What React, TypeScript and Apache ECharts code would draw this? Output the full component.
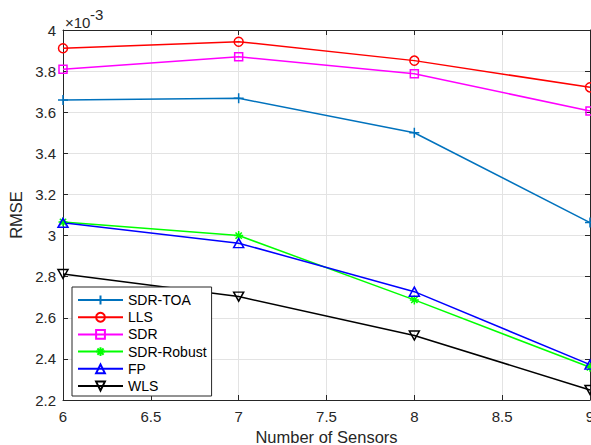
import React, { useEffect, useRef } from "react";
import * as echarts from "echarts";

const sensors = [6, 7, 8, 9];
const sdrToa = [3.66, 3.668, 3.5, 3.063];
const lls = [3.911, 3.943, 3.851, 3.721];
const sdr = [3.809, 3.87, 3.787, 3.606];
const sdrRobust = [3.066, 3.0, 2.687, 2.359];
const fp = [3.062, 2.963, 2.727, 2.372];
const wls = [2.813, 2.703, 2.514, 2.249];

const seriesNames = ["SDR-TOA", "LLS", "SDR", "SDR-Robust", "FP", "WLS"];
const seriesValues = [sdrToa, lls, sdr, sdrRobust, fp, wls];
const seriesColors = ["#0072BD", "#FF0000", "#FF00FF", "#00FF00", "#0000FF", "#000000"];
const seriesSymbols = [
  "path://M5 0L5 10M0 5L10 5",
  "circle",
  "rect",
  "path://M5 0L5 10M0 5L10 5M1.5 1.5L8.5 8.5M8.5 1.5L1.5 8.5",
  "path://M5 0L10 9L0 9Z",
  "path://M0 0L10 0L5 9Z",
];
const seriesSymbolSizes: any[] = [10, 9, 8, 9, [10, 9], [10, 9]];

const FONT = "Liberation Sans, Arial, Helvetica, sans-serif";
const AXIS_COLOR = "#262626";

export default function App() {
  const ref = useRef<HTMLDivElement>(null);
  useEffect(() => {
    const chart = echarts.init(ref.current!, null, { renderer: "svg" });
    const fmt = (v: number) => String(+v.toFixed(2));
    const baseX = {
      type: "value",
      min: 6,
      max: 9,
      interval: 0.5,
      axisLine: { show: true, onZero: false, lineStyle: { color: AXIS_COLOR, width: 1 } },
      axisTick: { show: true, inside: true, length: 5, lineStyle: { color: AXIS_COLOR } },
    };
    const baseY = {
      type: "value",
      min: 2.2,
      max: 4,
      interval: 0.2,
      axisLine: { show: true, onZero: false, lineStyle: { color: AXIS_COLOR, width: 1 } },
      axisTick: { show: true, inside: true, length: 5, lineStyle: { color: AXIS_COLOR } },
    };
    const option: any = {
      animation: false,
      backgroundColor: "#ffffff",
      textStyle: { fontFamily: FONT },
      grid: { left: 63, right: 1, top: 30, bottom: 45, containLabel: false, outerBoundsMode: "none" },
      legend: {
        orient: "vertical",
        left: 72,
        top: 287,
        itemWidth: 45,
        itemHeight: 11,
        itemGap: 3.2,
        padding: [6, 5, 3, 5],
        backgroundColor: "#ffffff",
        borderColor: AXIS_COLOR,
        borderWidth: 1,
        textStyle: { fontFamily: FONT, fontSize: 14, lineHeight: 14, color: "#000000" },
        data: seriesNames,
      },
      xAxis: [
        {
          ...baseX,
          position: "bottom",
          name: "Number of Sensors",
          nameLocation: "middle",
          nameGap: 27,
          nameTextStyle: { fontFamily: FONT, fontSize: 16.5, color: AXIS_COLOR },
          axisLabel: { fontFamily: FONT, fontSize: 15, color: AXIS_COLOR, margin: 9, formatter: fmt },
          splitLine: { show: true, lineStyle: { color: "#e3e3e3", width: 1 } },
        },
        {
          ...baseX,
          position: "top",
          axisLabel: { show: false },
          splitLine: { show: false },
        },
      ],
      yAxis: [
        {
          ...baseY,
          position: "left",
          name: "RMSE",
          nameLocation: "middle",
          nameGap: 34,
          nameRotate: 90,
          nameTextStyle: { fontFamily: FONT, fontSize: 16.5, color: AXIS_COLOR },
          axisLabel: { fontFamily: FONT, fontSize: 15, color: AXIS_COLOR, margin: 7, formatter: fmt },
          splitLine: { show: true, lineStyle: { color: "#e3e3e3", width: 1 } },
        },
        {
          ...baseY,
          position: "right",
          axisLabel: { show: false },
          splitLine: { show: false },
        },
      ],
      graphic: [
        {
          type: "text",
          left: 65,
          top: 15,
          style: { text: "×10", fontFamily: FONT, fontSize: 15, fill: AXIS_COLOR },
        },
        {
          type: "text",
          left: 90,
          top: 7,
          style: { text: "-3", fontFamily: FONT, fontSize: 15, fill: AXIS_COLOR },
        },
      ],
      series: seriesNames.map((name, i) => ({
        name,
        type: "line",
        xAxisIndex: 0,
        yAxisIndex: 0,
        clip: false,
        data: sensors.map((x, j) => [x, seriesValues[i][j]]),
        symbol: seriesSymbols[i],
        symbolSize: seriesSymbolSizes[i],
        showAllSymbol: true,
        lineStyle: { color: seriesColors[i], width: 1.5 },
        itemStyle: { color: "transparent", borderColor: seriesColors[i], borderWidth: 1.5 },
        emphasis: { disabled: true },
      })),
    };
    chart.setOption(option);
    return () => chart.dispose();
  }, []);
  return <div ref={ref} style={{ width: 591, height: 445, position: "absolute", left: 0, top: 0 }} />;
}
